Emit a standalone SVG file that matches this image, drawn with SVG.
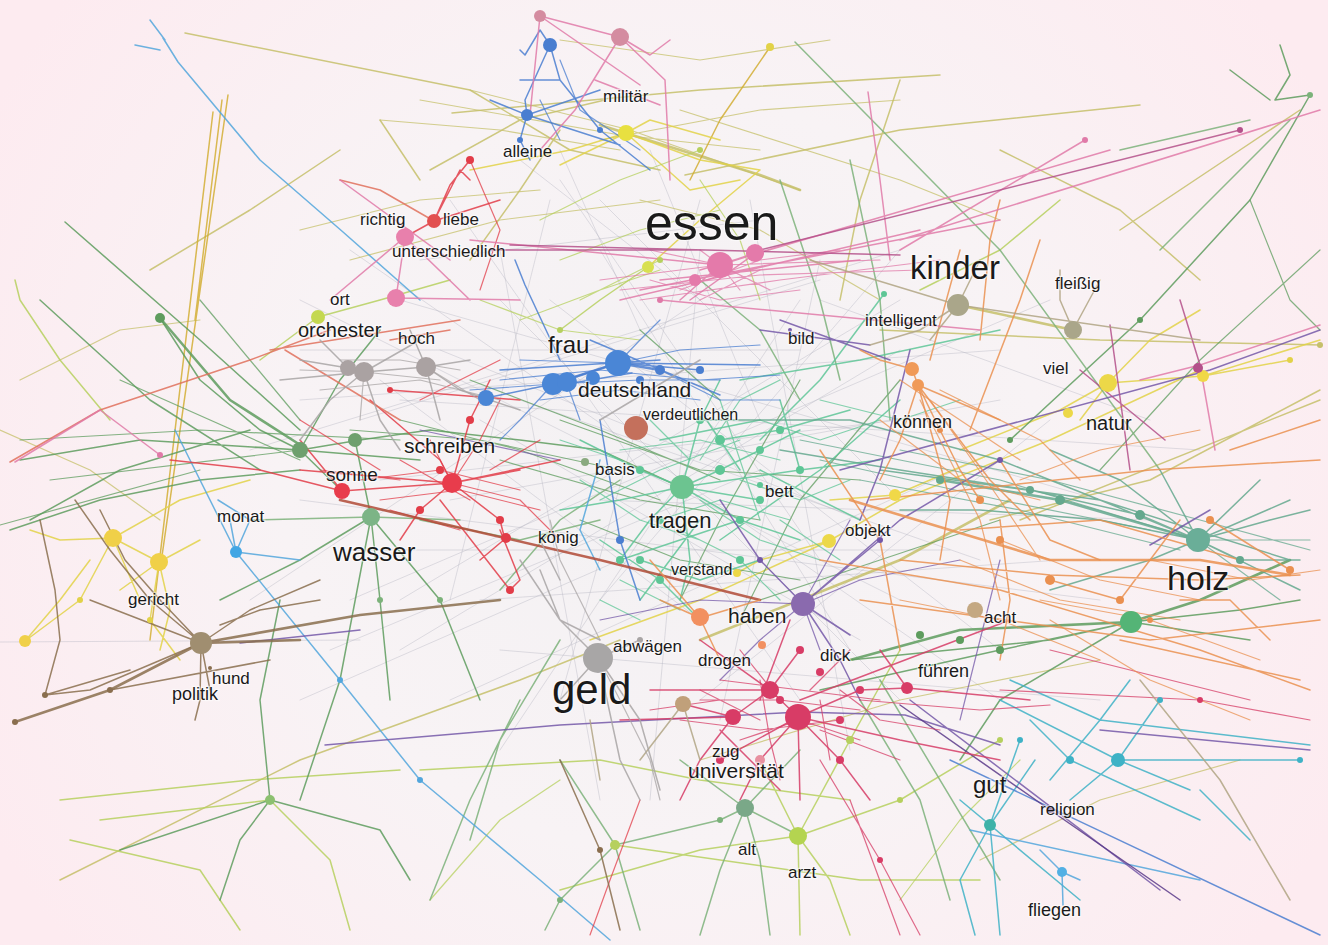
<svg xmlns="http://www.w3.org/2000/svg" width="1328" height="945" viewBox="0 0 1328 945">
<defs>
<radialGradient id="bg" cx="660" cy="470" r="760" gradientUnits="userSpaceOnUse">
<stop offset="0" stop-color="#f3f1f3"/>
<stop offset="0.5" stop-color="#f8f3f5"/>
<stop offset="1" stop-color="#fdebf0"/>
</radialGradient>
<style>
.e{fill:none;stroke-linecap:round;stroke-linejoin:round;stroke-width:1.5;stroke-opacity:.85}
.x{stroke-width:1.2;stroke-opacity:.75}
.t{stroke-width:2.6}
.f{stroke:#b4b4c0;stroke-width:1;stroke-opacity:.4}
.grn{stroke:#5e9c5e}.gr2{stroke:#7cb27a}.mnt{stroke:#5ec696}.tea{stroke:#64a88e}.cya{stroke:#3eb2c6}
.olv{stroke:#c6c06a}.ygr{stroke:#b6d05e}.yel{stroke:#e2d248}.gld{stroke:#d2ae34}
.red{stroke:#e23c48}.crm{stroke:#d63c66}.sal{stroke:#e0705c}.org{stroke:#ea9050}.drd{stroke:#b04a36}
.pnk{stroke:#e07aa8}.mag{stroke:#b4508a}.blu{stroke:#4a7ed0}.lbl{stroke:#52a6dc}
.pur{stroke:#7458a8}.dpu{stroke:#5a3a8a}.brn{stroke:#8a6e4e}.tan{stroke:#b0a484}.gry{stroke:#a8a4a4}
text{font-family:"Liberation Sans",Arial,sans-serif;fill:#1a1a1a;stroke:#fff;stroke-width:2.5;stroke-opacity:.55;paint-order:stroke}
.s{font-size:17px}
.d circle{stroke:none}
</style>
</defs>
<rect width="1328" height="945" fill="url(#bg)"/>
<g id="connectors">
<path class="e f" d="M300 300 L900 600 M350 250 L1000 700 M400 300 L1100 500 M450 200 L800 700 M300 400 L1000 350 M350 600 L1050 300 M500 250 L600 800 M700 250 L650 800 M800 300 L500 750 M900 350 L400 650 M300 500 L1100 600 M250 450 L900 250 M550 300 L1000 650 M600 200 L900 500 M450 700 L1000 450 M400 400 L1200 450 M300 350 L800 350 M350 550 L950 550 M500 650 L1100 700 M550 200 L450 600 M750 200 L850 750 M250 600 L700 300 M0 642 L360 640 M520 160 L700 300 M560 150 L640 330 M420 260 L760 220 M380 480 L900 420 M600 500 L1150 520 M700 700 L1050 420 M330 650 L760 470 M820 300 L1150 420 M900 250 L600 600 M480 420 L860 640 M650 150 L760 420 M300 700 L620 560 M500 300 L900 700 M450 500 L1000 400 M400 600 L900 300 M600 250 L850 650 M520 400 L980 560 M440 350 L860 520 M700 200 L560 700 M820 260 L720 720 M360 420 L820 280 M480 600 L1060 560 M560 180 L820 560 M380 380 L700 620"/>
<path class="e olv" d="M185 33 L470 90 L570 150 L660 170 M452 113 L700 90 L940 75 M685 175 L900 130 L1140 105 M60 880 L300 760 L520 680 L620 640 M990 520 L1150 480 L1320 390 M1020 520 L1320 400 M880 330 L1100 340 L1320 345 M1300 110 L1240 150 L1120 230 M430 170 L520 120 L605 100 M340 150 L250 210 L150 270 M420 180 L380 120 M900 80 L860 200 L840 300 M560 130 L520 190 L470 260 M1000 150 L1120 210 L1200 280"/>
<path class="e x olv" d="M380 120 L500 130 L620 150 M470 90 L630 130 L800 190 M600 140 L760 110 L900 100 M680 110 L900 180 L1000 220 M350 260 L500 220 L660 200 M420 100 L620 135 L760 150 M300 230 L420 200 L540 190 M640 200 L760 230 L880 300 M20 380 L120 330 L200 320 M0 430 L90 470 L160 520 M700 760 L900 700 L1100 660 M980 860 L1100 800 L1240 760 M560 40 L700 60 L830 40"/>
<path class="e t olv" d="M600 125 L760 175 L800 190 M700 640 L800 600 L900 560 L1010 500 M958 305 L1073 330"/>
<path class="e gld" d="M228 95 L160 570 M213 112 L150 640 M222 100 L195 320 M770 47 L720 120 L690 180"/>
<path class="e yel" d="M113 538 L159 562 L170 610 L160 650 M113 538 L60 540 L30 530 M113 538 L80 600 L25 641 M159 562 L200 540 M113 538 L180 500 L250 480 M159 562 L150 620 L180 660 M113 538 L140 600 M159 562 L120 590 M25 641 L60 600 L90 560 M1108 383 L1203 376 L1290 360 M1108 383 L1060 410 L960 450 M1108 383 L1150 340 L1200 310 M1108 383 L1080 420 M829 541 L900 500 L1050 440 L1200 370 M590 640 L700 600 L829 541 M626 133 L570 150 L470 170 M626 133 L700 160 L760 170 M626 133 L650 120 L720 140 M626 133 L560 165 M626 133 L690 190 L740 180 M895 495 L1000 450 M1203 376 L1320 340 M648 267 L700 220 L760 170 M829 541 L760 560 L737 573 M895 495 L830 500"/>
<path class="e ygr" d="M560 890 L700 850 L798 836 L900 800 L1000 740 M420 770 L600 760 L700 780 L850 800 M615 845 L860 880 L980 880 M798 836 L850 740 L900 650 M798 836 L800 935 M798 836 L830 880 L850 935 M798 836 L760 760 M798 836 L700 850 M648 267 L600 300 L560 330 M318 317 L380 300 L450 280 M318 317 L260 360 M100 820 L270 800 L330 860 L350 930 M70 840 L200 870 L240 930 M60 800 L250 780 L400 770 M20 300 L15 280 M20 300 L60 360 L110 420 M920 290 L1000 250 L1060 200"/>
<path class="e x ygr" d="M540 220 L620 180 L700 150 M560 260 L640 230 L720 210 M580 300 L660 260 M520 320 L600 290 L660 270 M480 300 L560 330 L640 340 M700 180 L740 240 L760 300 M900 900 L960 820 L1020 760 M430 900 L500 820 L560 780"/>
<path class="e grn" d="M160 318 L200 380 L260 430 L300 450 L342 491 M65 222 L200 340 L300 430 M40 300 L150 400 L260 470 M20 460 L140 440 L300 450 L420 460 M10 530 L100 500 L200 480 L300 470 M300 450 L360 440 L430 430 L520 440 L600 450 L680 487 M355 440 L371 517 M371 517 L300 560 L220 600 M371 517 L380 600 L390 700 M371 517 L340 680 L300 800 M371 517 L440 600 L480 700 M270 800 L260 700 L280 600 M270 800 L380 830 L410 880 M270 800 L120 850 M270 800 L240 840 L220 900 M1131 622 L1050 640 L950 650 L850 660 M1131 622 L1000 700 L960 760 M1131 622 L1250 640 M820 690 L1000 650 L1131 622 L1240 610 L1300 600 M1310 95 L1250 200 L1140 320 L1010 440 M1290 75 L1275 100 L1310 95 M1280 45 L1290 75 M1270 100 L1230 70 M300 450 L340 380 L380 330 M30 520 L120 470 L250 430"/>
<path class="e x grn" d="M560 420 L700 470 L860 480 M500 460 L640 500 L760 520 M400 420 L520 450 L660 500 M580 520 L680 560 L800 580 M470 380 L600 430 L720 480 M350 430 L480 440 L620 470 M640 330 L720 400 M800 380 L720 520 L680 600 M900 380 L800 500 L740 620 M760 600 L880 560 L1000 520 M20 440 L200 430 L400 440 M0 525 L200 470 M50 480 L300 450 M120 380 L300 460 M200 300 L300 420 M1320 250 L1200 360 L1100 470 M1250 200 L1290 300 L1320 330"/>
<path class="e t grn" d="M160 318 L230 400 L305 448 M1131 622 L1200 600 L1290 560 M850 660 L960 630 L1131 622"/>
<path class="e gr2" d="M745 808 L760 860 L770 935 M745 808 L720 870 L700 935 M745 808 L800 750 M745 808 L680 760 M745 808 L800 836 M615 845 L560 900 L545 930 M615 845 L720 820 L745 808 M615 845 L640 930 M615 845 L560 760 M500 590 L560 520 L620 480 M420 520 L520 540 L600 520 M250 520 L371 517 L460 520 M700 280 L760 330 L800 400 M780 180 L820 300 L840 380 M850 160 L880 300 L890 420 M860 700 L920 800 L950 900 M880 680 L1000 880 M520 700 L470 800 L430 900 M560 640 L500 740 L470 840 M795 42 L1000 250 L1160 470 M1120 150 L1250 120 M1160 250 L1290 120"/>
<path class="e mnt" d="M682 487 L720 470 L760 450 L800 430 M682 487 L650 520 L620 560 M682 487 L700 420 L720 380 M682 487 L740 520 L800 540 M682 487 L640 470 L580 440 M682 487 L760 500 M682 487 L690 560 L680 600 M682 487 L620 500 L560 510 M682 487 L800 470 L880 460 M640 560 L700 580 L760 560 M620 560 L680 540 L740 520 M720 440 L780 430 L850 410 M760 470 L820 500 L860 520 M660 440 L760 420 M700 410 L740 470 M780 400 L800 470 M600 540 L660 580 L700 620 M740 380 L860 360 L1000 330 M884 294 L820 380 L760 440 M640 600 L700 520 M720 540 L820 470 L900 400"/>
<path class="e x mnt" d="M620 450 L700 440 L780 460 M600 500 L660 470 L740 440 M700 500 L760 540 L820 560 M650 420 L690 460 M720 400 L760 520 M580 480 L640 520 L700 540 M760 420 L820 440 L880 420 M680 530 L740 560 L780 600 M740 480 L800 500 L850 480 M620 580 L680 610 M780 520 L840 560 M560 440 L620 460 M700 460 L740 400 L780 380 M820 400 L900 420 L960 400 M600 600 L640 620 M660 520 L720 500 L790 520"/>
<path class="e tea" d="M1198 540 L1140 515 L1030 490 L900 470 L780 450 M1198 540 L1100 500 L1000 460 L850 420 L700 420 M1198 540 L1290 500 M1198 540 L1270 520 L1310 510 M1198 540 L1240 560 L1300 560 M1198 540 L1150 560 L1050 590 M1198 540 L1260 480 M1198 540 L1100 520 L980 510 L900 510 M1198 540 L1120 480 L1050 450 M1198 540 L1300 590 M1160 470 L1198 540 M880 470 L1100 500 L1290 560"/>
<path class="e x tea" d="M800 440 L1000 480 L1198 540 M820 460 L1000 500 L1150 530 M860 480 L1020 510 L1180 550 M900 450 L1050 480 L1200 520 L1310 550 M1198 540 L1310 540 M1198 540 L1280 600"/>
<path class="e t tea" d="M1198 540 L1060 500 L940 480"/>
<path class="e cya" d="M1000 700 L1118 760 L1190 790 M1118 760 L1300 760 M1118 760 L1160 700 M1118 760 L1070 800 M1030 720 L1070 760 L1200 820 M1010 680 L1100 720 L1310 745 M990 825 L960 880 L975 935 M990 825 L1020 740 M990 825 L1035 760 M960 800 L1080 900 M990 825 L1000 935 M1050 780 L1100 720 L1130 680 M1200 790 L1250 840"/>
<path class="e lbl" d="M163 38 L178 62 L260 160 L343 232 L420 300 M150 20 L165 40 M135 45 L160 50 M236 552 L250 520 L218 500 M236 552 L230 520 M175 430 L236 552 L340 680 L420 780 L540 880 L610 940 M236 552 L300 560 M970 830 L1200 880 M1040 850 L1062 872 L1080 880 M1062 872 L1063 905 M600 460 L580 530 L600 570"/>
<path class="e blu" d="M486 398 L553 384 L618 363 L700 370 M553 384 L567 384 L632 373 M618 363 L760 365 M590 340 L720 395 M500 370 L660 360 M550 45 L525 100 L527 115 L520 140 L530 160 M550 45 L560 80 L600 130 L650 170 M527 115 L490 100 M527 115 L600 90 M527 115 L620 145 M550 45 L540 30 L525 55 L520 50 M560 80 L520 80 M515 260 L525 285 L560 360 M600 420 L620 540 L640 600 M950 760 L1320 935"/>
<path class="e x blu" d="M470 390 L553 384 L640 380 L720 380 M500 380 L600 370 L700 380 L780 375 M520 360 L618 363 M618 363 L680 350 L760 345 M540 400 L620 390 L700 400 M553 384 L520 420 L500 440 M618 363 L640 340 L660 320 M567 384 L580 420 M660 370 L720 400 L780 400 M560 60 L580 110 L640 150 M540 100 L560 140"/>
<path class="e t blu" d="M553 384 L618 363 L660 370"/>
<path class="e pur" d="M325 745 L560 725 L800 712 M800 712 L905 715 L1000 745 M910 700 L1160 890 M1100 730 L1310 750 M803 604 L760 560 L720 500 M803 604 L900 520 L1000 460 M803 604 L840 660 L860 700 M803 604 L880 540 M803 604 L850 635 M840 470 L1210 370 L1320 330 M910 350 L880 470 L860 520 M240 643 L360 630 M1150 545 L1210 510 M760 330 L870 345 M780 320 L890 360"/>
<path class="e x pur" d="M600 620 L700 600 L803 604 M803 604 L760 640 L720 680 M803 604 L860 580 L960 560 M850 520 L803 604 M803 604 L820 650 M420 430 L560 460 M1000 560 L980 640 L960 720"/>
<path class="e dpu" d="M900 705 L1050 810 L1180 900" stroke-width="2.4"/>
<path class="e red" d="M342 491 L452 483 L520 470 M342 491 L260 470 L170 460 M452 483 L470 420 L490 380 M452 483 L420 510 L400 540 M452 483 L500 520 L505 540 M452 483 L560 460 M342 491 L300 440 M370 400 L440 460 L452 483 M300 470 L452 483 M440 500 L510 590 M500 530 L520 580 L510 590 M434 221 L450 185 L470 160 M434 221 L460 170 L470 180 M405 237 L434 221 L500 200 M390 390 L520 400 M506 538 L480 560"/>
<path class="e x red" d="M360 480 L440 470 L520 490 M380 500 L460 490 L540 510 M320 470 L400 480 M452 483 L480 440 L500 400 M452 483 L430 440 M452 483 L520 500 L560 540 M400 460 L470 500 M300 420 L380 470 M490 470 L540 440 M390 510 L460 530 M420 400 L460 380 L500 360 M470 160 L500 230 L480 290 M640 800 L610 880 L590 935"/>
<path class="e sal" d="M10 462 L100 410 L250 360 L330 330 M285 350 L400 420 M270 350 L460 320 M390 340 L450 330 M434 221 L380 190 L340 180"/>
<path class="e t drd" d="M340 500 L600 560 L760 600"/>
<path class="e crm" d="M798 717 L770 690 L733 717 L683 704 M798 717 L860 690 L907 688 M798 717 L840 760 L870 800 M798 717 L760 760 L740 800 M798 717 L800 800 M798 717 L720 760 M770 690 L700 640 M770 690 L800 650 M733 717 L700 760 L680 800 M798 717 L900 740 L1000 760 M770 690 L650 690 M733 717 L620 720 M907 688 L980 695 L1030 700 M907 688 L880 650 M800 700 L1010 620 M760 700 L790 620 M720 730 L780 790"/>
<path class="e x crm" d="M700 700 L780 700 L860 710 M680 720 L760 730 L840 720 M720 680 L800 690 L880 700 M740 740 L800 720 L860 740 M760 680 L770 740 L780 780 M820 700 L830 760 M700 690 L760 720 M650 710 L720 700 M840 690 L880 720 L940 730 M780 700 L740 650 M810 690 L850 650 M820 730 L900 760 M860 700 L980 710 L1050 705 M1000 690 L1200 700 L1310 720 M1050 650 L1250 700 M850 800 L900 935 M820 760 L880 860 L920 935"/>
<path class="e org" d="M912 369 L918 385 L940 430 L960 470 L980 500 M912 369 L880 360 L860 350 M918 385 L990 480 L1030 520 M918 385 L900 440 L880 480 M918 385 L950 500 L940 560 M918 385 L1000 420 M970 430 L1020 300 L1040 240 M980 340 L990 240 L1000 200 M930 360 L960 250 M900 560 L1050 575 L1200 580 L1300 575 M960 530 L1100 520 L1240 560 M1000 590 L1200 650 L1310 690 M1050 580 L1120 600 L1180 520 M860 600 L1150 640 L1320 620 M1000 460 L1050 540 L1100 560 M820 560 L1000 590 M700 618 L760 600 M700 618 L660 600 M700 618 L720 660 M700 618 L650 560 M870 500 L1150 470 L1320 460 M1230 450 L1320 420 M1210 520 L1290 570 M820 450 L880 540 L900 650 M1000 520 L1010 600 L1000 660 M1180 600 L1230 600 L1270 640 M1120 640 L1300 680"/>
<path class="e x org" d="M900 380 L960 420 L1020 460 M930 400 L1000 500 L1040 560 M920 400 L980 520 L1000 600 M940 390 L1040 440 L1080 480 M880 420 L960 480 L1040 500 M1000 540 L1100 580 L1200 600 M1040 600 L1150 620 L1260 660 M900 600 L1000 620 L1100 660 M960 560 L1060 600 L1180 620 M1150 560 L1250 580 L1320 570 M1020 480 L1100 450 L1200 430 M1050 620 L1150 680 L1250 720"/>
<path class="e t org" d="M850 500 L1050 560 L1200 560 L1290 575"/>
<path class="e pnk" d="M470 240 L720 265 M620 300 L920 230 M640 290 L1000 220 M660 280 L860 260 M700 270 L1110 150 M900 240 L1320 110 M1085 140 L900 250 M690 300 L760 250 M720 265 L755 253 M720 265 L680 300 M720 265 L800 240 M396 298 L405 237 M405 237 L330 300 M405 237 L470 300 M396 298 L520 300 M340 180 L450 260 M540 16 L620 37 L650 55 L670 40 M540 16 L640 85 M620 37 L575 110 L540 150 M620 37 L665 80 L670 180 M540 16 L530 115 M595 80 L660 105 M15 462 L100 410 L160 455 M660 300 L980 330 M1200 365 L1320 325 M1140 380 L1200 365 L1215 450 M868 92 L880 180 L890 260"/>
<path class="e x pnk" d="M600 280 L720 265 L880 260 M620 290 L760 275 L920 270 M640 300 L780 280 L940 260 M700 250 L720 265 L740 290 M680 290 L760 260 L840 250 M700 300 L760 270 M720 265 L770 290 M650 280 L720 300 L800 290 M720 265 L650 250"/>
<path class="e mag" d="M510 245 L900 255 M760 250 L1240 130 M1110 325 L1130 470 M1080 370 L1165 440 M1180 300 L1200 365 M490 250 L700 250" stroke-width="2"/>
<path class="e brn" d="M201 643 L90 690 L45 695 M201 643 L160 600 L125 560 L100 510 M201 643 L210 690 M201 643 L200 700 L195 720 M201 643 L250 610 L320 580 M45 695 L60 640 L55 590 L40 520 M45 695 L130 670 M75 500 L110 550 L150 600 L201 643 M90 600 L201 643 M110 690 L270 660 M220 625 L260 610 L320 600 M560 760 L600 850 L620 930"/>
<path class="e t brn" d="M15 722 L110 690 L201 643 L300 640 M201 643 L360 615 L500 600"/>
<path class="e tan" d="M958 305 L1200 340 M958 305 L920 330 L870 345 M958 305 L980 260 M958 305 L930 340 M1073 330 L1100 280 M810 260 L958 305 M1073 330 L1060 300 L1060 270 M683 704 L640 760 M683 704 L700 760 M590 720 L600 780 M1140 680 L1220 780 L1290 900"/>
<path class="e gry" d="M364 372 L426 367 L470 360 M364 372 L348 368 L300 360 M364 372 L330 400 L300 440 M364 372 L380 420 L400 450 M426 367 L460 390 L520 410 M364 372 L420 340 M426 367 L410 330 M364 372 L280 380 M426 367 L440 420 M348 368 L320 340 M598 658 L560 620 L520 560 M598 658 L640 720 L660 790 M598 658 L620 760 L640 800 M598 658 L560 700 M598 658 L640 640 M540 570 L560 620 L600 640 M540 540 L560 580 M600 420 L700 360"/>
<path class="e x gry" d="M300 370 L364 372 L440 380 M320 390 L420 380 L500 400 M340 360 L400 360 L460 370 M364 372 L360 420 M426 367 L480 400 M600 640 L580 600 L560 560 L550 520 M598 658 L620 700 L650 760 L660 800"/>
</g>
<g id="dots" class="d">
<circle cx="486" cy="398" r="8" fill="#4a86d6"/>
<circle cx="593" cy="378" r="7" fill="#4a86d6"/>
<circle cx="25" cy="641" r="6" fill="#f0d048"/>
<circle cx="700" cy="617" r="9" fill="#f29060"/>
<circle cx="683" cy="704" r="8" fill="#c0a07a"/>
<circle cx="770" cy="690" r="9" fill="#d83c66"/>
<circle cx="1203" cy="376" r="6" fill="#f0d848"/>
<circle cx="895" cy="495" r="6" fill="#f0d848"/>
<circle cx="1198" cy="368" r="5" fill="#b4508a"/>
<circle cx="160" cy="318" r="5" fill="#5e9c5e"/>
<circle cx="300" cy="450" r="8" fill="#6ea06e"/>
<circle cx="355" cy="440" r="7" fill="#6ea06e"/>
<circle cx="540" cy="16" r="6" fill="#d48ca0"/>
<circle cx="1050" cy="580" r="5" fill="#ea9050"/>
<circle cx="1060" cy="500" r="5" fill="#64a88e"/>
<circle cx="940" cy="480" r="4" fill="#64a88e"/>
<circle cx="1290" cy="570" r="4" fill="#ea9050"/>
<circle cx="1210" cy="520" r="4" fill="#ea9050"/>
<circle cx="920" cy="635" r="4" fill="#5e9c5e"/>
<circle cx="960" cy="640" r="4" fill="#5e9c5e"/>
<circle cx="1000" cy="650" r="4" fill="#5e9c5e"/>
<circle cx="615" cy="845" r="5" fill="#b6d05e"/>
<circle cx="270" cy="800" r="5" fill="#8cc070"/>
<circle cx="648" cy="267" r="6" fill="#d8e050"/>
<circle cx="660" cy="300" r="3" fill="#e07aa8"/>
<circle cx="755" cy="253" r="9" fill="#e47aaa"/>
<circle cx="695" cy="280" r="6" fill="#e47aaa"/>
<circle cx="620" cy="560" r="4" fill="#5ec696"/>
<circle cx="640" cy="560" r="4" fill="#5ec696"/>
<circle cx="720" cy="470" r="5" fill="#5ec696"/>
<circle cx="760" cy="450" r="4" fill="#5ec696"/>
<circle cx="760" cy="500" r="4" fill="#5ec696"/>
<circle cx="700" cy="420" r="4" fill="#5ec696"/>
<circle cx="660" cy="580" r="4" fill="#5ec696"/>
<circle cx="640" cy="470" r="4" fill="#5ec696"/>
<circle cx="800" cy="470" r="4" fill="#5ec696"/>
<circle cx="720" cy="440" r="5" fill="#5ec696"/>
<circle cx="740" cy="560" r="4" fill="#5ec696"/>
<circle cx="780" cy="430" r="4" fill="#5ec696"/>
<circle cx="660" cy="520" r="4" fill="#5ec696"/>
<circle cx="740" cy="520" r="4" fill="#5ec696"/>
<circle cx="860" cy="690" r="4" fill="#d83c66"/>
<circle cx="840" cy="760" r="4" fill="#d83c66"/>
<circle cx="720" cy="760" r="4" fill="#d83c66"/>
<circle cx="760" cy="760" r="5" fill="#e890a0"/>
<circle cx="800" cy="650" r="4" fill="#d83c66"/>
<circle cx="780" cy="700" r="4" fill="#d83c66"/>
<circle cx="840" cy="720" r="4" fill="#d83c66"/>
<circle cx="470" cy="420" r="4" fill="#e23c48"/>
<circle cx="500" cy="520" r="4" fill="#e23c48"/>
<circle cx="420" cy="510" r="4" fill="#e23c48"/>
<circle cx="510" cy="590" r="4" fill="#e23c48"/>
<circle cx="470" cy="160" r="4" fill="#e23c48"/>
<circle cx="440" cy="470" r="4" fill="#e23c48"/>
<circle cx="390" cy="390" r="3" fill="#e23c48"/>
<circle cx="620" cy="540" r="4" fill="#4a7ed0"/>
<circle cx="700" cy="370" r="4" fill="#4a7ed0"/>
<circle cx="660" cy="370" r="5" fill="#4a7ed0"/>
<circle cx="640" cy="380" r="4" fill="#4a7ed0"/>
<circle cx="520" cy="140" r="3" fill="#4a7ed0"/>
<circle cx="600" cy="130" r="3" fill="#4a7ed0"/>
<circle cx="980" cy="500" r="4" fill="#ea9050"/>
<circle cx="940" cy="430" r="3" fill="#ea9050"/>
<circle cx="1120" cy="600" r="4" fill="#ea9050"/>
<circle cx="1000" cy="540" r="4" fill="#ea9050"/>
<circle cx="1150" cy="620" r="3" fill="#ea9050"/>
<circle cx="1240" cy="560" r="4" fill="#64a88e"/>
<circle cx="1140" cy="515" r="5" fill="#64a88e"/>
<circle cx="1030" cy="490" r="4" fill="#64a88e"/>
<circle cx="1160" cy="700" r="3" fill="#3eb2c6"/>
<circle cx="1070" cy="760" r="4" fill="#3eb2c6"/>
<circle cx="1300" cy="760" r="3" fill="#3eb2c6"/>
<circle cx="1020" cy="740" r="3" fill="#3eb2c6"/>
<circle cx="1050" cy="810" r="3" fill="#5a3a8a"/>
<circle cx="340" cy="680" r="3" fill="#52a6dc"/>
<circle cx="420" cy="780" r="3" fill="#52a6dc"/>
<circle cx="160" cy="455" r="3" fill="#e07aa8"/>
<circle cx="110" cy="690" r="3" fill="#8a6e4e"/>
<circle cx="45" cy="695" r="3" fill="#8a6e4e"/>
<circle cx="15" cy="722" r="3" fill="#8a6e4e"/>
<circle cx="150" cy="620" r="3" fill="#e2d248"/>
<circle cx="80" cy="600" r="3" fill="#e2d248"/>
<circle cx="380" cy="600" r="3" fill="#7cb27a"/>
<circle cx="440" cy="600" r="3" fill="#7cb27a"/>
<circle cx="560" cy="900" r="3" fill="#7cb27a"/>
<circle cx="720" cy="820" r="3" fill="#7cb27a"/>
<circle cx="900" cy="800" r="3" fill="#b6d05e"/>
<circle cx="850" cy="740" r="4" fill="#b6d05e"/>
<circle cx="1000" cy="740" r="3" fill="#b6d05e"/>
<circle cx="1010" cy="440" r="3" fill="#5e9c5e"/>
<circle cx="1140" cy="320" r="3" fill="#5e9c5e"/>
<circle cx="1310" cy="95" r="3" fill="#7cb27a"/>
<circle cx="1085" cy="140" r="3" fill="#e07aa8"/>
<circle cx="1240" cy="130" r="3" fill="#b4508a"/>
<circle cx="770" cy="47" r="4" fill="#e2d248"/>
<circle cx="1320" cy="345" r="3" fill="#c6c06a"/>
<circle cx="1290" cy="360" r="3" fill="#e2d248"/>
<circle cx="1000" cy="460" r="3" fill="#7458a8"/>
<circle cx="880" cy="540" r="3" fill="#7458a8"/>
<circle cx="760" cy="560" r="3" fill="#7458a8"/>
<circle cx="700" cy="150" r="3" fill="#b6d05e"/>
<circle cx="660" cy="260" r="3" fill="#b6d05e"/>
<circle cx="560" cy="330" r="3" fill="#b6d05e"/>
<circle cx="1200" cy="700" r="3" fill="#d83c66"/>
<circle cx="880" cy="860" r="3" fill="#d83c66"/>
<circle cx="600" cy="850" r="3" fill="#8a6e4e"/>
</g>
<g id="n-essen"><circle cx="720" cy="265" r="13" fill="#e47aaa"/><text x="645" y="240" font-size="50">essen</text></g>
<g id="n-kinder"><circle cx="958" cy="305" r="11" fill="#aaa68a"/><text x="910" y="279" font-size="33">kinder</text></g>
<g id="n-fleissig"><circle cx="1073" cy="330" r="9" fill="#aaa68a"/><text class="s" x="1055" y="289">fleißig</text></g>
<g id="n-viel"><circle cx="1108" cy="383" r="9" fill="#ecd848"/><text class="s" x="1043" y="374">viel</text></g>
<g id="n-natur"><circle cx="1068" cy="413" r="5" fill="#ecd848"/><text x="1086" y="430" font-size="20">natur</text></g>
<g id="n-intelligent"><circle cx="884" cy="294" r="3" fill="#5ec696"/><text class="s" x="865" y="326">intelligent</text></g>
<g id="n-bild"><circle cx="790" cy="330" r="2" fill="#7458a8"/><text class="s" x="788" y="344">bild</text></g>
<g id="n-koennen"><circle cx="912" cy="369" r="7" fill="#f09a58"/><circle cx="918" cy="385" r="6" fill="#f09a58"/><text x="893" y="428" font-size="18">können</text></g>
<g id="n-frau"><circle cx="553" cy="384" r="11" fill="#4a86d6"/><circle cx="567" cy="382" r="10" fill="#4a86d6"/><text x="548" y="353" font-size="24">frau</text></g>
<g id="n-deutschland"><circle cx="618" cy="363" r="13" fill="#4a86d6"/><text x="578" y="397" font-size="21">deutschland</text></g>
<g id="n-verdeutlichen"><circle cx="636" cy="428" r="12" fill="#c4705c"/><text x="643" y="420" font-size="16">verdeutlichen</text></g>
<g id="n-basis"><circle cx="585" cy="462" r="4" fill="#8aaa80"/><text class="s" x="595" y="475">basis</text></g>
<g id="n-bett"><circle cx="760" cy="485" r="3" fill="#5ec696"/><text class="s" x="765" y="497">bett</text></g>
<g id="n-objekt"><circle cx="829" cy="541" r="7" fill="#ecd848"/><text class="s" x="845" y="536">objekt</text></g>
<g id="n-tragen"><circle cx="682" cy="487" r="12" fill="#6cc490"/><text x="649" y="528" font-size="22">tragen</text></g>
<g id="n-verstand"><circle cx="737" cy="573" r="4" fill="#ecd848"/><text x="671" y="575" font-size="16">verstand</text></g>
<g id="n-haben"><circle cx="803" cy="604" r="12" fill="#8a6aae"/><text x="728" y="623" font-size="21">haben</text></g>
<g id="n-abwaegen"><circle cx="640" cy="640" r="3" fill="#a8a4a4"/><text class="s" x="613" y="652">abwägen</text></g>
<g id="n-drogen"><circle cx="762" cy="645" r="4" fill="#f29060"/><text class="s" x="698" y="666">drogen</text></g>
<g id="n-dick"><circle cx="820" cy="672" r="4" fill="#d83c66"/><text class="s" x="820" y="661">dick</text></g>
<g id="n-acht"><circle cx="975" cy="610" r="8" fill="#c4a882"/><text class="s" x="984" y="623">acht</text></g>
<g id="n-fuehren"><circle cx="907" cy="688" r="6" fill="#d83c66"/><text x="918" y="677" font-size="18">führen</text></g>
<g id="n-holz"><circle cx="1198" cy="540" r="12" fill="#6aae98"/><circle cx="1131" cy="622" r="11" fill="#54b476"/><text x="1167" y="590" font-size="34">holz</text></g>
<g id="n-gut"><circle cx="990" cy="825" r="6" fill="#3eb2a8"/><text x="973" y="793" font-size="24">gut</text></g>
<g id="n-religion"><circle cx="1118" cy="760" r="7" fill="#3eb2c6"/><text class="s" x="1040" y="815">religion</text></g>
<g id="n-fliegen"><circle cx="1062" cy="872" r="5" fill="#52b0e4"/><text x="1028" y="916" font-size="18">fliegen</text></g>
<g id="n-universitaet"><circle cx="798" cy="717" r="13" fill="#d83c66"/><text x="688" y="778" font-size="21">universität</text></g>
<g id="n-zug"><circle cx="733" cy="717" r="8" fill="#d83c66"/><text class="s" x="712" y="757">zug</text></g>
<g id="n-alt"><circle cx="745" cy="808" r="9" fill="#7aa888"/><text class="s" x="738" y="855">alt</text></g>
<g id="n-arzt"><circle cx="798" cy="836" r="9" fill="#b4d450"/><text class="s" x="788" y="878">arzt</text></g>
<g id="n-geld"><circle cx="598" cy="658" r="15" fill="#a8a6a6"/><text x="552" y="704" font-size="42">geld</text></g>
<g id="n-politik"><circle cx="201" cy="643" r="11" fill="#a08e70"/><text x="172" y="700" font-size="18">politik</text></g>
<g id="n-hund"><circle cx="210" cy="668" r="2" fill="#8a6e4e"/><text class="s" x="212" y="684">hund</text></g>
<g id="n-gericht"><circle cx="113" cy="538" r="9" fill="#f0d048"/><circle cx="159" cy="562" r="9" fill="#f0d048"/><text class="s" x="128" y="605">gericht</text></g>
<g id="n-monat"><circle cx="236" cy="552" r="6" fill="#42a6e4"/><text class="s" x="217" y="522">monat</text></g>
<g id="n-wasser"><circle cx="371" cy="517" r="9" fill="#7cb486"/><text x="333" y="561" font-size="26">wasser</text></g>
<g id="n-sonne"><circle cx="342" cy="491" r="8" fill="#e83c4c"/><text x="326" y="481" font-size="19">sonne</text></g>
<g id="n-schreiben"><circle cx="452" cy="483" r="10" fill="#e83c4c"/><text x="404" y="453" font-size="21">schreiben</text></g>
<g id="n-koenig"><circle cx="506" cy="538" r="5" fill="#e23c48"/><text class="s" x="538" y="543">könig</text></g>
<g id="n-orchester"><circle cx="364" cy="372" r="10" fill="#aaa2a2"/><circle cx="348" cy="368" r="8" fill="#aaa2a2"/><text x="298" y="337" font-size="20">orchester</text></g>
<g id="n-hoch"><circle cx="426" cy="367" r="10" fill="#aaa2a2"/><text class="s" x="398" y="344">hoch</text></g>
<g id="n-ort"><circle cx="318" cy="317" r="7" fill="#c4d850"/><text class="s" x="330" y="305">ort</text></g>
<g id="n-richtig"><circle cx="405" cy="237" r="9" fill="#e880ac"/><text class="s" x="360" y="225">richtig</text></g>
<g id="n-liebe"><circle cx="434" cy="221" r="7" fill="#e25050"/><text class="s" x="443" y="225">liebe</text></g>
<g id="n-unterschiedlich"><circle cx="396" cy="298" r="9" fill="#e880ac"/><text class="s" x="392" y="257">unterschiedlich</text></g>
<g id="n-militaer"><circle cx="620" cy="37" r="9" fill="#d48ca0"/><circle cx="626" cy="133" r="8" fill="#e8e040"/><text class="s" x="603" y="102">militär</text></g>
<g id="n-alleine"><circle cx="527" cy="115" r="6" fill="#4a7ed0"/><circle cx="550" cy="45" r="7" fill="#4a7ed0"/><text class="s" x="503" y="157">alleine</text></g>
</svg>
